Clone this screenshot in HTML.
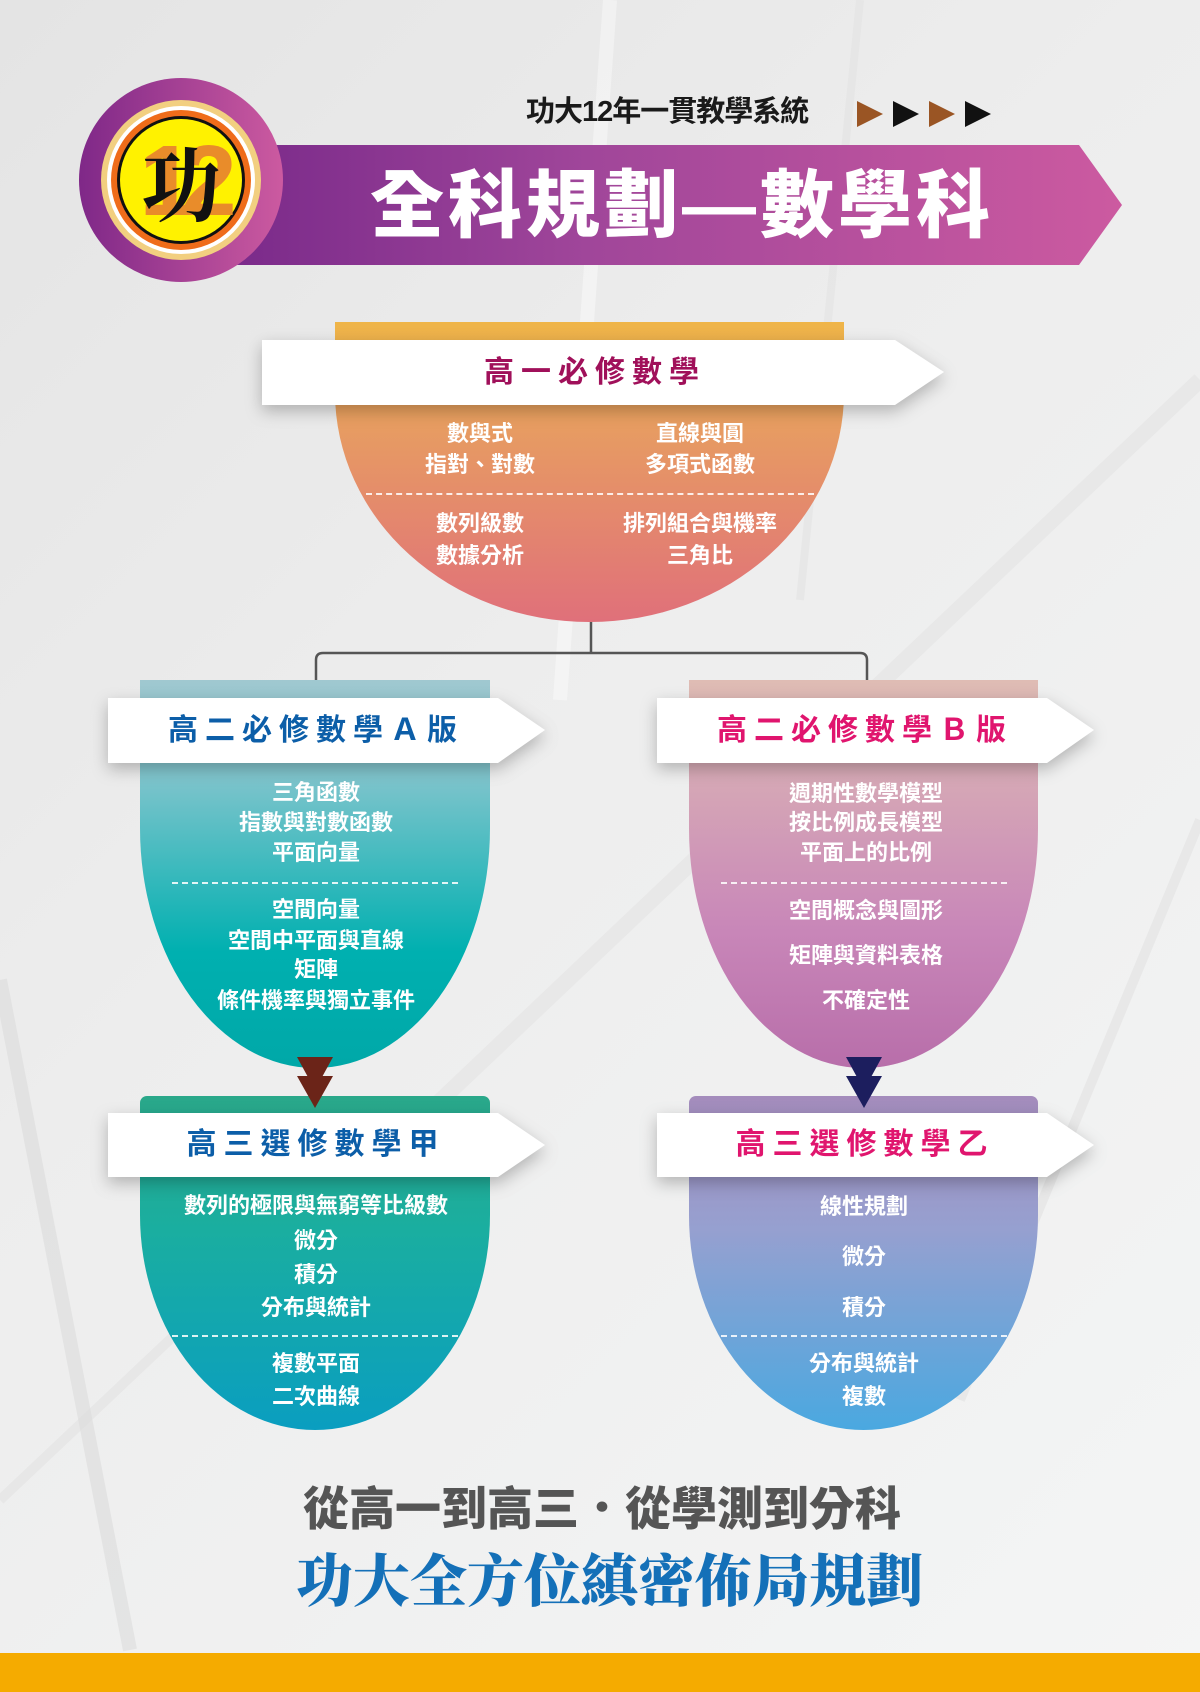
<!DOCTYPE html>
<html><head><meta charset="utf-8">
<style>
*{margin:0;padding:0;box-sizing:border-box}
body{width:1200px;height:1692px;position:relative;overflow:hidden;background:linear-gradient(135deg,#e4e4e4 0%,#ededed 40%,#f4f5f5 100%);font-family:"Liberation Sans","Noto Sans CJK TC",sans-serif}
.abs{position:absolute}
.card{position:absolute}
.rib{position:absolute;filter:drop-shadow(0 6px 8px rgba(0,0,0,.25))}
.rib div{width:100%;height:100%;background:#fff}
.t{position:absolute;text-align:center;font-weight:bold;white-space:nowrap}
.w{color:#fff;font-size:22px;font-weight:bold;position:absolute;text-align:center;white-space:nowrap;transform:translateX(-50%);line-height:1}
.dash{position:absolute;border-top:2px dashed rgba(255,255,255,.85);height:0}
</style></head><body>
<svg class="abs" style="left:0;top:0" width="1200" height="1692">
<path d="M610 0 L560 700" stroke="#fff" stroke-width="14" opacity=".4"/>
<path d="M860 0 L800 600" stroke="#e2e2e2" stroke-width="8" opacity=".5"/>
<path d="M1200 380 L420 1120" stroke="#ddd" stroke-width="16" opacity=".35"/>
<path d="M1200 820 L960 1400" stroke="#e0e0e0" stroke-width="10" opacity=".5"/>
<path d="M0 980 L130 1650" stroke="#d9d9d9" stroke-width="14" opacity=".5"/>
<path d="M0 1500 L180 1330" stroke="#ddd" stroke-width="10" opacity=".4"/>
</svg>

<!-- header banner -->
<div class="abs" style="left:230px;top:145px;width:892px;height:120px;background:linear-gradient(90deg,#7a2a8a,#a0469a 40%,#cc5aa0);clip-path:polygon(0 0,849px 0,892px 60px,849px 120px,0 120px)"></div>
<div class="abs" style="left:79px;top:78px;width:204px;height:204px;border-radius:50%;background:linear-gradient(90deg,#7f2888,#cc5aa0)"></div>
<div class="abs" style="left:101px;top:100px;width:160px;height:160px;border-radius:50%;background:#f2cf80"></div>
<div class="abs" style="left:107px;top:106px;width:148px;height:148px;border-radius:50%;background:#fff"></div>
<div class="abs" style="left:111px;top:110px;width:140px;height:140px;border-radius:50%;background:#ef6c1a"></div>
<div class="abs" style="left:117px;top:116px;width:128px;height:128px;border-radius:50%;background:#111"></div>
<div class="abs" style="left:120px;top:119px;width:122px;height:122px;border-radius:50%;background:#fff200"></div>
<div class="abs" style="left:120px;top:120px;width:122px;height:122px;text-align:center;font:bold 100px/122px 'Liberation Sans',sans-serif;color:#e98c2a;letter-spacing:-14px">12</div>
<div class="abs" style="left:120px;top:120px;width:122px;height:122px;text-align:center;font:bold 80px/122px 'Noto Serif CJK SC',serif;color:#111">功</div>

<div class="t" style="left:526px;top:95px;font-size:29px;color:#1a1a1a;line-height:34px;letter-spacing:-1px">功大12年一貫教學系統</div>
<svg class="abs" style="left:855px;top:99px" width="140" height="30">
<polygon points="2,2 28,15 2,28" fill="#9a5524"/><polygon points="38,2 64,15 38,28" fill="#111"/>
<polygon points="74,2 100,15 74,28" fill="#9a5524"/><polygon points="110,2 136,15 110,28" fill="#111"/></svg>
<div class="t" style="left:370px;top:166px;font-size:74px;color:#fff;line-height:80px;letter-spacing:4px;font-weight:900">全科規劃—數學科</div>

<!-- card 1 -->
<div class="card" style="left:335px;top:322px;width:509px;height:300px;background:linear-gradient(180deg,#efb548 0%,#e79c62 35%,#e0707a 100%);border-radius:0 0 255px 255px/0 0 230px 230px"></div>
<div class="rib" style="left:262px;top:340px;width:682px;height:65px"><div style="clip-path:polygon(0 0,633px 0,682px 32px,633px 65px,0 65px)"></div></div>
<div class="t" style="left:278px;top:355px;width:634px;font-size:30px;color:#a0105a;letter-spacing:7px;line-height:36px">高一必修數學</div>
<div class="w" style="left:480px;top:423px">數與式</div>
<div class="w" style="left:480px;top:454px">指對、對數</div>
<div class="w" style="left:700px;top:423px">直線與圓</div>
<div class="w" style="left:700px;top:454px">多項式函數</div>
<div class="dash" style="left:366px;top:493px;width:448px"></div>
<div class="w" style="left:480px;top:513px">數列級數</div>
<div class="w" style="left:480px;top:545px">數據分析</div>
<div class="w" style="left:700px;top:513px">排列組合與機率</div>
<div class="w" style="left:700px;top:545px">三角比</div>

<!-- connector -->
<svg class="abs" style="left:0;top:0" width="1200" height="700">
<path d="M591 622 V653 M316 680 V660 Q316 653 323 653 H860 Q867 653 867 660 V680" stroke="#555" stroke-width="2.5" fill="none"/></svg>

<!-- card A -->
<div class="card" style="left:140px;top:680px;width:350px;height:388px;background:linear-gradient(180deg,#a0c8d0 0%,#7ec4cc 25%,#00b0b0 70%,#00a8a8 100%);border-radius:0 0 175px 175px/0 0 240px 240px"></div>
<div class="rib" style="left:108px;top:698px;width:437px;height:65px"><div style="clip-path:polygon(0 0,390px 0,437px 32px,390px 65px,0 65px)"></div></div>
<div class="t" style="left:108px;top:713px;width:416px;font-size:30px;color:#0c5ea8;letter-spacing:7px;line-height:36px">高二必修數學Ａ版</div>
<div class="w" style="left:316px;top:782px">三角函數</div>
<div class="w" style="left:316px;top:812px">指數與對數函數</div>
<div class="w" style="left:316px;top:842px">平面向量</div>
<div class="dash" style="left:172px;top:882px;width:286px"></div>
<div class="w" style="left:316px;top:899px">空間向量</div>
<div class="w" style="left:316px;top:930px">空間中平面與直線</div>
<div class="w" style="left:316px;top:959px">矩陣</div>
<div class="w" style="left:316px;top:990px">條件機率與獨立事件</div>

<!-- card B -->
<div class="card" style="left:689px;top:680px;width:349px;height:388px;background:linear-gradient(180deg,#dfbcb4 0%,#d6a8b6 25%,#c886b8 65%,#b86eaa 100%);border-radius:0 0 175px 175px/0 0 240px 240px"></div>
<div class="rib" style="left:657px;top:698px;width:437px;height:65px"><div style="clip-path:polygon(0 0,390px 0,437px 32px,390px 65px,0 65px)"></div></div>
<div class="t" style="left:657px;top:713px;width:416px;font-size:30px;color:#e0156e;letter-spacing:7px;line-height:36px">高二必修數學Ｂ版</div>
<div class="w" style="left:866px;top:783px">週期性數學模型</div>
<div class="w" style="left:866px;top:812px">按比例成長模型</div>
<div class="w" style="left:866px;top:842px">平面上的比例</div>
<div class="dash" style="left:721px;top:882px;width:286px"></div>
<div class="w" style="left:866px;top:900px">空間概念與圖形</div>
<div class="w" style="left:866px;top:945px">矩陣與資料表格</div>
<div class="w" style="left:866px;top:990px">不確定性</div>

<!-- card 甲 -->
<div class="card" style="left:140px;top:1096px;width:350px;height:334px;background:linear-gradient(180deg,#2aa88a 0%,#1aaea0 40%,#0a9ec0 100%);border-radius:7px 7px 175px 175px/7px 7px 215px 215px"></div>
<div class="rib" style="left:108px;top:1113px;width:437px;height:64px"><div style="clip-path:polygon(0 0,390px 0,437px 32px,390px 64px,0 64px)"></div></div>
<div class="t" style="left:108px;top:1127px;width:416px;font-size:30px;color:#0c5ea8;letter-spacing:7px;line-height:36px">高三選修數學甲</div>
<div class="w" style="left:316px;top:1195px">數列的極限與無窮等比級數</div>
<div class="w" style="left:316px;top:1230px">微分</div>
<div class="w" style="left:316px;top:1264px">積分</div>
<div class="w" style="left:316px;top:1297px">分布與統計</div>
<div class="dash" style="left:172px;top:1335px;width:286px"></div>
<div class="w" style="left:316px;top:1353px">複數平面</div>
<div class="w" style="left:316px;top:1386px">二次曲線</div>

<!-- card 乙 -->
<div class="card" style="left:689px;top:1096px;width:349px;height:334px;background:linear-gradient(180deg,#a48cbc 0%,#96a0d0 40%,#4aa8e0 100%);border-radius:7px 7px 175px 175px/7px 7px 215px 215px"></div>
<div class="rib" style="left:657px;top:1113px;width:437px;height:64px"><div style="clip-path:polygon(0 0,390px 0,437px 32px,390px 64px,0 64px)"></div></div>
<div class="t" style="left:657px;top:1127px;width:416px;font-size:30px;color:#e0156e;letter-spacing:7px;line-height:36px">高三選修數學乙</div>
<div class="w" style="left:864px;top:1196px">線性規劃</div>
<div class="w" style="left:864px;top:1246px">微分</div>
<div class="w" style="left:864px;top:1297px">積分</div>
<div class="dash" style="left:721px;top:1335px;width:286px"></div>
<div class="w" style="left:864px;top:1353px">分布與統計</div>
<div class="w" style="left:864px;top:1386px">複數</div>

<!-- arrows -->
<svg class="abs" style="left:0;top:0" width="1200" height="1200">
<polygon points="297,1057 333,1057 315,1090" fill="#6b2418"/><polygon points="297,1076 333,1076 315,1108" fill="#6b2418"/>
<polygon points="846,1057 882,1057 864,1090" fill="#1c1e5e"/><polygon points="846,1076 882,1076 864,1108" fill="#1c1e5e"/>
</svg>

<div class="t" style="left:296px;top:1483px;width:612px;font-size:46px;color:#555;line-height:52px;font-weight:900">從高一到高三．從學測到分科</div>
<div class="t" style="left:296px;top:1546px;width:612px;font-size:57px;color:#1470b8;line-height:62px;font-family:'Noto Serif CJK SC','Liberation Serif',serif;font-weight:900;letter-spacing:0px">功大全方位縝密佈局規劃</div>
<div class="abs" style="left:0;top:1653px;width:1200px;height:39px;background:#f5ab00"></div>
</body></html>
